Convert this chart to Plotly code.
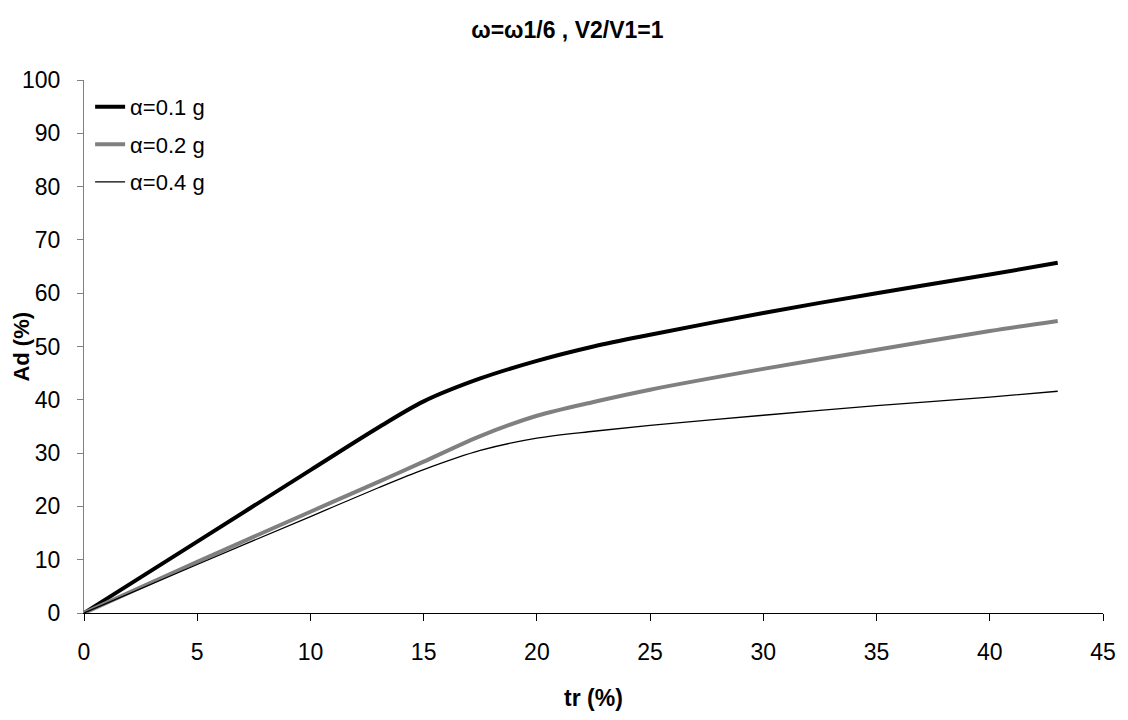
import plotly.graph_objects as go

tr = [0, 5, 10, 13, 15, 17.5, 20, 22.5, 25, 30, 35, 40, 43]
ad_01 = [0, 13.4, 26.8, 34.8, 39.7, 44.0, 47.3, 50.0, 52.2, 56.3, 60.0, 63.5, 65.7]
ad_02 = [0, 9.6, 19.0, 24.6, 28.4, 33.2, 37.0, 39.6, 41.9, 45.8, 49.4, 52.9, 54.8]
ad_04 = [0, 9.1, 18.1, 23.5, 26.9, 30.5, 32.8, 34.1, 35.2, 37.1, 38.9, 40.5, 41.6]

names = ["α=0.1 g", "α=0.2 g", "α=0.4 g"]
colors = ["#000000", "#808080", "#000000"]
widths = [4, 4, 1.3]

FONT = "Liberation Sans, Arial, sans-serif"

fig = go.Figure()
for i, (ys, nm) in enumerate(zip([ad_01, ad_02, ad_04], names)):
    fig.add_trace(go.Scatter(
        x=tr, y=ys, mode="lines", name=nm, legendgroup=f"g{i}",
        line=dict(color=colors[i], width=widths[i], shape="spline", smoothing=0.9),
    ))

fig.add_annotation(
    text="<b>Ad (%)</b>", textangle=-90, xref="paper", yref="paper",
    x=(21 - 84) / 1021, y=0.5, xanchor="center", yanchor="middle", showarrow=False,
    font=dict(family=FONT, size=22, color="black"),
)

fig.update_layout(
    width=1128, height=720,
    margin=dict(l=84, r=23, t=80, b=107),
    paper_bgcolor="white", plot_bgcolor="white",
    font=dict(family=FONT, size=23, color="black"),
    title=dict(text="<b>ω=ω1/6 , V2/V1=1</b>", x=0.503, xanchor="center", y=0.958, yanchor="middle",
               font=dict(size=23)),
    showlegend=True,
    legend=dict(x=0.006, y=0.989, xanchor="left", yanchor="top", bgcolor="rgba(0,0,0,0)",
                tracegroupgap=6, itemwidth=30, font=dict(size=22)),
    xaxis=dict(range=[0, 45], tickvals=list(range(0, 46, 5)), showgrid=False, zeroline=False,
               showline=True, linecolor="black", linewidth=1, ticks="outside", ticklen=7,
               tickcolor="black", ticklabelstandoff=11,
               title=dict(text="<b>tr (%)</b>", font=dict(size=23), standoff=26)),
    yaxis=dict(range=[0, 100], tickvals=list(range(0, 101, 10)), showgrid=False, zeroline=False,
               showline=True, linecolor="#808080", linewidth=1, ticks="outside", ticklen=6,
               tickcolor="#808080", ticklabelstandoff=12),
)

fig.write_html("out.html")
